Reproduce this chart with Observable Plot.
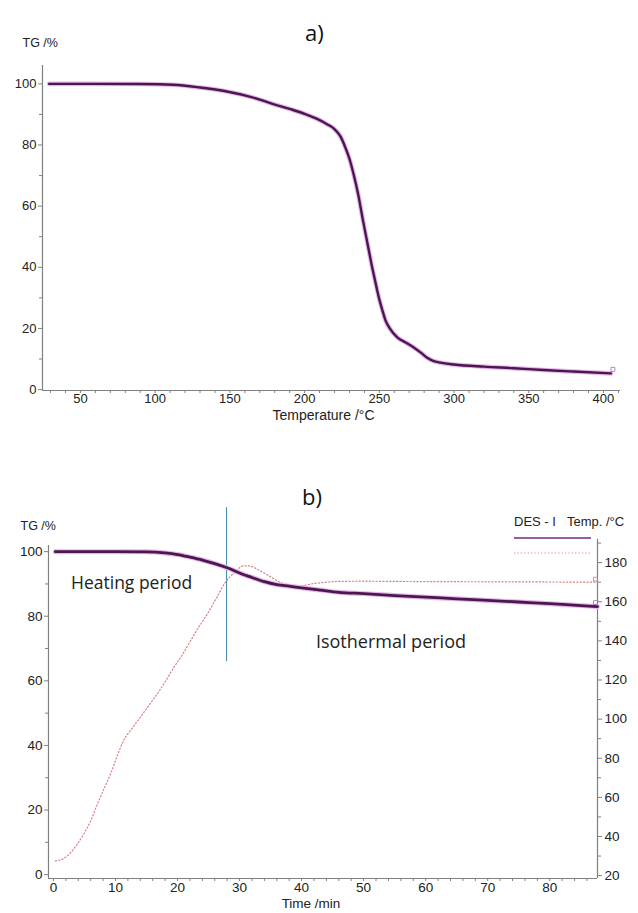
<!DOCTYPE html>
<html><head><meta charset="utf-8">
<script src="https://cdn.jsdelivr.net/npm/d3@7"></script>
<script src="https://cdn.jsdelivr.net/npm/@observablehq/plot@0.6"></script>
<style>
body{margin:0;background:#fff;}
#wrap{position:relative;width:638px;height:913px;overflow:hidden;font-family:"Liberation Sans",Arial,sans-serif;color:#222;}
.abs{position:absolute;white-space:nowrap;}
.ttl{font-family:"Open Sans",sans-serif;font-size:22px;line-height:30px;color:#111;}
.lg{font-size:13px;line-height:15px;color:#222;}
</style></head><body>
<div id="wrap">
  <div id="chartA" class="abs" style="left:0;top:0"></div>
  <div id="chartB" class="abs" style="left:0;top:440px"></div>
  <div class="abs ttl" style="left:305px;top:17px">a)</div>
  <div class="abs ttl" style="left:302px;top:481px">b)</div>
  <div class="abs lg" style="left:514px;top:514px">DES - I</div>
  <div class="abs lg" style="left:567px;top:514px">Temp. /°C</div>
  <svg class="abs" style="left:512px;top:530px" width="82" height="30">
    <line x1="2" x2="79" y1="8" y2="8" stroke="#9a5c9e" stroke-width="2.2"/>
    <line x1="2" x2="79" y1="23" y2="23" stroke="#d98585" stroke-width="1.2" stroke-dasharray="1.2,2.2"/>
  </svg>
</div>
<script>
// ---------- Chart a) data ----------
const aTemperature = [29, 60, 90, 112, 130, 148, 165, 179, 190, 200, 208, 215, 220, 224, 227, 230, 233, 236, 239, 241, 243, 245, 247, 250, 252, 254, 257, 262, 268, 273, 278, 282, 286, 291, 300, 320, 340, 360, 380, 405];
const aTG =          [100, 100, 99.95, 99.7, 98.8, 97.5, 95.6, 93.4, 91.8, 90.2, 88.6, 86.8, 85.2, 82.8, 79.5, 75.5, 70, 63.5, 55.5, 50.5, 45.5, 40.5, 36, 29.5, 26, 22.8, 20, 17.1, 15.3, 13.8, 12, 10.4, 9.4, 8.8, 8.2, 7.5, 7.0, 6.4, 5.9, 5.3];
const aXTicks = [50, 100, 150, 200, 250, 300, 350, 400];
const aXMinor = [30, 40, 60, 70, 80, 90, 110, 120, 130, 140, 160, 170, 180, 190, 210, 220, 230, 240, 260, 270, 280, 290, 310, 320, 330, 340, 360, 370, 380, 390, 410];
const aYTicks = [0, 20, 40, 60, 80, 100];
const aYMinor = [10, 30, 50, 70, 90];

// ---------- Chart b) data ----------
const bTime = [0.3, 5, 10, 15, 18, 20, 22, 24, 26, 28, 30, 32, 34, 36, 38, 40, 43, 46, 50, 55, 60, 65, 70, 75, 80, 85, 87.7];
const bTG =   [100, 100, 100, 99.95, 99.6, 99.1, 98.3, 97.4, 96.3, 95.0, 93.4, 92.0, 90.7, 89.8, 89.3, 88.8, 88.1, 87.4, 87.0, 86.4, 85.9, 85.4, 84.9, 84.4, 83.9, 83.3, 83.0];
const bTempTime = [0.3, 1.5, 2.7, 3.8, 4.9, 6, 7, 8.1, 9.2, 10.2, 11.3, 12.6, 14, 15.4, 16.7, 18, 19.4, 20.8, 22.1, 23.4, 24.8, 26.2, 27.7, 29.2, 30.7, 31.8, 32.8, 34.6, 36.6, 38.2, 39.8, 42, 44, 46.3, 50, 55, 60, 70, 80, 87.7];
const bTemp =     [27.5, 28.5, 31.5, 36, 41.3, 48, 56, 64, 72, 80.5, 89, 95, 101, 107, 112.8, 119, 126.4, 133, 140, 147, 153.7, 161.5, 169.9, 175, 178.4, 178.2, 176.7, 173.5, 169.9, 168.6, 168.2, 169.3, 170, 170.4, 170.5, 170.4, 170.3, 170.2, 170.1, 170];
const bPeriodBoundary = [27.9];
const bXTicks = [0, 10, 20, 30, 40, 50, 60, 70, 80];
const bXMinor = [2, 4, 6, 8, 12, 14, 16, 18, 22, 24, 26, 28, 32, 34, 36, 38, 42, 44, 46, 48, 52, 54, 56, 58, 62, 64, 66, 68, 72, 74, 76, 78, 82, 84, 86];
const bYTicks = [0, 20, 40, 60, 80, 100];
const bYMinor = [10, 30, 50, 70, 90];
const bTempTicks = [20, 40, 60, 80, 100, 120, 140, 160, 180];
const bTempMinor = [30, 50, 70, 90, 110, 130, 150, 170, 190];

const AXIS = "#808080", TXT = "#222";
const fontStyle = {fontFamily: "'Liberation Sans', Arial, sans-serif", fontSize: "13.5px", color: TXT, background: "transparent", overflow: "visible"};

// ---------- Chart a ----------
const aData = aTemperature.map((t, i) => ({t, tg: aTG[i]}));
const aX = [24.6, 411.4], aY = [-0.3, 106];
const chartA = Plot.plot({
  width: 638, height: 440,
  marginLeft: 42, marginRight: 18, marginTop: 65, marginBottom: 50,
  style: {...fontStyle, fontSize: "13px"},
  x: {domain: aX, axis: null},
  y: {domain: aY, axis: null},
  marks: [
    Plot.ruleY([aY[0]], {stroke: AXIS, strokeWidth: 1.2}),
    Plot.ruleX([aX[0]], {stroke: AXIS, strokeWidth: 1.2}),
    Plot.axisX(aXTicks, {anchor: "bottom", tickSize: 3, tickPadding: 0, stroke: AXIS, fill: TXT, label: null}),
    Plot.axisX(aXMinor, {anchor: "bottom", tickSize: 3, tickFormat: () => "", stroke: AXIS, label: null}),
    Plot.axisY(aYTicks, {anchor: "left", tickSize: 4, tickPadding: 2, stroke: AXIS, fill: TXT, label: null}),
    Plot.axisY(aYMinor, {anchor: "left", tickSize: 3, tickFormat: () => "", stroke: AXIS, label: null}),
    Plot.text(["TG /%"], {frameAnchor: "top-left", dx: -20, dy: -27, textAnchor: "start", fontSize: 12.5, fill: TXT}),
    Plot.text(["Temperature /°C"], {frameAnchor: "bottom", dx: -8, dy: 29, fontSize: 14, fill: TXT}),
    Plot.line(aData, {x: "t", y: "tg", stroke: "#e6b6ea", strokeWidth: 4.6, curve: "monotone-x"}),
    Plot.line(aData, {x: "t", y: "tg", stroke: "#4b174f", strokeWidth: 2.4, curve: "monotone-x"}),
    Plot.dot(aData.slice(-1), {x: "t", y: "tg", symbol: "square", r: 2.2, stroke: "#9a70c0", fill: "none", strokeWidth: 0.8, dy: -4, dx: 2})
  ]
});
document.getElementById("chartA").appendChild(chartA);

// ---------- Chart b ----------
const bData = bTime.map((t, i) => ({t, tg: bTG[i]}));
const bTempData = bTempTime.map((t, i) => ({t, temp: bTemp[i]}));
const bX = [-0.8, 87.7], bY = [-1.2, 101.9];
// right axis: temperature scale expressed in TG units
const yTemp = d3.scaleLinear().domain([20, 180]).range([-0.31, 96.6]);
const chartB = Plot.plot({
  width: 638, height: 473,
  marginLeft: 48, marginRight: 41, marginTop: 105, marginBottom: 35,
  style: fontStyle,
  x: {domain: bX, axis: null},
  y: {domain: bY, axis: null},
  marks: [
    Plot.ruleY([bY[0]], {stroke: AXIS, strokeWidth: 1.2}),
    Plot.ruleX([bX[0]], {stroke: AXIS, strokeWidth: 1.2}),
    Plot.ruleX([bX[1]], {stroke: AXIS, strokeWidth: 1.2, y1: bY[0], y2: yTemp(192)}),
    Plot.axisX(bXTicks, {anchor: "bottom", tickSize: 3, tickPadding: 1, stroke: AXIS, fill: TXT, label: null}),
    Plot.axisX(bXMinor, {anchor: "bottom", tickSize: 3, tickFormat: () => "", stroke: AXIS, label: null}),
    Plot.axisY(bYTicks, {anchor: "left", tickSize: 4, tickPadding: 2, stroke: AXIS, fill: TXT, label: null}),
    Plot.axisY(bYMinor, {anchor: "left", tickSize: 3, tickFormat: () => "", stroke: AXIS, label: null}),
    Plot.axisY(bTempTicks, {anchor: "right", y: yTemp, tickSize: 4, tickPadding: 3, stroke: AXIS, fill: TXT, label: null, tickFormat: d => String(d)}),
    Plot.axisY(bTempMinor, {anchor: "right", y: yTemp, tickSize: 3, stroke: AXIS, label: null, tickFormat: () => ""}),
    Plot.text(["TG /%"], {frameAnchor: "top-left", dx: -28, dy: -24, textAnchor: "start", fontSize: 12.5, fill: TXT}),
    Plot.text(["Time /min"], {frameAnchor: "bottom", dx: -12, dy: 29, fontSize: 13.5, fill: TXT}),
    Plot.ruleX(bPeriodBoundary, {y1: 65.9, y2: 113.6, stroke: "#4b8fa8", strokeWidth: 1.1}),
    Plot.line(bTempData, {x: "t", y: d => yTemp(d.temp), stroke: "#d98080", strokeWidth: 1.2, strokeDasharray: "1.2,2.2", curve: "monotone-x"}),
    Plot.line(bData, {x: "t", y: "tg", stroke: "#e6b6ea", strokeWidth: 5, curve: "monotone-x"}),
    Plot.line(bData, {x: "t", y: "tg", stroke: "#4b174f", strokeWidth: 2.8, curve: "monotone-x"}),
    Plot.dot(bTempData.slice(-1), {x: "t", y: d => yTemp(d.temp), symbol: "square", r: 2.2, stroke: "#e07070", fill: "none", strokeWidth: 0.8, dx: -2, dy: -3}),
    Plot.dot(bData.slice(-1), {x: "t", y: "tg", symbol: "square", r: 2.2, stroke: "#9a70c0", fill: "none", strokeWidth: 0.8, dx: -2, dy: -4}),
    Plot.text(["Heating period"], {x: 12.6, y: 90.1, fontFamily: "'Open Sans', sans-serif", fontSize: 17.5, fill: "#222"}),
    Plot.text(["Isothermal period"], {x: 54.4, y: 71.9, fontFamily: "'Open Sans', sans-serif", fontSize: 18, fill: "#222"})
  ]
});
document.getElementById("chartB").appendChild(chartB);
</script>
</body></html>
